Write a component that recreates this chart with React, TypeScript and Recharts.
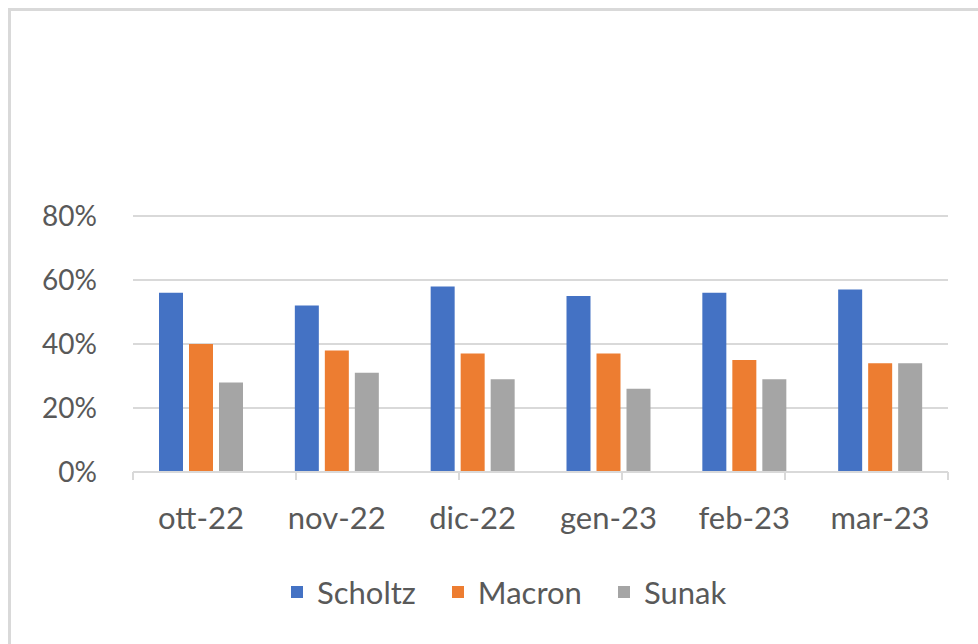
import React from 'react';
import { BarChart, Bar, XAxis, YAxis, CartesianGrid, Legend } from 'recharts';

const months = ['ott-22', 'nov-22', 'dic-22', 'gen-23', 'feb-23', 'mar-23'];
const scholtz = [56, 52, 58, 55, 56, 57];
const macron = [40, 38, 37, 37, 35, 34];
const sunak = [28, 31, 29, 26, 29, 34];
const yTicks = [0, 20, 40, 60, 80];
const boundaryTicks = [0, 1, 2, 3, 4, 5, 6];
const seriesOrder = ['Scholtz', 'Macron', 'Sunak'];

const COLORS = { Scholtz: '#4472C4', Macron: '#ED7D31', Sunak: '#A5A5A5' };
const TEXT = '#595959';
const GRID = '#d9d9d9';
const FONT = 'Lato, "Noto Sans", sans-serif';

const data = months.map((m, i) => ({
    month: m,
    Scholtz: scholtz[i],
    Macron: macron[i],
    Sunak: sunak[i],
}));

const renderLegend = (props: any) => {
    const payload = [...(props.payload || [])].sort(
        (a: any, b: any) => seriesOrder.indexOf(a.value) - seriesOrder.indexOf(b.value)
    );
    return (
        <div style={{ display: 'flex', alignItems: 'center', fontFamily: FONT, fontSize: 31, color: TEXT }}>
            {payload.map((entry: any, index: number) => (
                <div key={`item-${index}`} style={{ display: 'flex', alignItems: 'center', marginRight: 36 }}>
                    <span style={{ width: 12, height: 12, background: entry.color, display: 'inline-block', marginRight: 14 }} />
                    <span>{entry.value}</span>
                </div>
            ))}
        </div>
    );
};

export default function App() {
    return (
        <div style={{ position: 'absolute', left: 0, top: 0, width: 978, height: 644, overflow: 'hidden', background: '#fff' }}>
            <div style={{
                position: 'absolute', left: 8, top: 8, width: 1000, height: 700,
                borderLeft: `3px solid ${GRID}`, borderTop: `3px solid ${GRID}`,
            }} />
            <div style={{ position: 'absolute', left: 0, top: 0 }}>
                <BarChart
                    width={978}
                    height={644}
                    data={data}
                    margin={{ top: 216, right: 30, left: 0, bottom: 111 }}
                    barGap={6}
                    barSize={24}
                >
                    <CartesianGrid vertical={false} stroke={GRID} strokeWidth={2} />
                    <XAxis
                        xAxisId="bounds"
                        type="number"
                        domain={[0, 6]}
                        ticks={boundaryTicks}
                        allowDataOverflow
                        tickFormatter={() => ''}
                        tickSize={8}
                        tickLine={{ stroke: GRID, strokeWidth: 2 }}
                        height={1}
                        stroke={GRID}
                        strokeWidth={2}
                    />
                    <XAxis
                        dataKey="month"
                        xAxisId="cat"
                        axisLine={false}
                        tickLine={false}
                        tickSize={0}
                        tickMargin={34}
                        height={60}
                        tick={{ fill: TEXT, fontSize: 31, fontFamily: FONT }}
                    />
                    <YAxis
                        domain={[0, 80]}
                        ticks={yTicks}
                        tickFormatter={(v) => `${v}%`}
                        axisLine={false}
                        tickLine={false}
                        tickSize={0}
                        tickMargin={36}
                        width={133}
                        tick={{ fill: TEXT, fontSize: 28, fontFamily: FONT }}
                    />
                    <Legend
                        layout="vertical"
                        align="center"
                        verticalAlign="middle"
                        content={renderLegend}
                        wrapperStyle={{ top: 573, left: 291, width: 'auto' }}
                    />
                    <Bar xAxisId="cat" dataKey="Scholtz" fill={COLORS.Scholtz} isAnimationActive={false} />
                    <Bar xAxisId="cat" dataKey="Macron" fill={COLORS.Macron} isAnimationActive={false} />
                    <Bar xAxisId="cat" dataKey="Sunak" fill={COLORS.Sunak} isAnimationActive={false} />
                </BarChart>
            </div>
        </div>
    );
}
